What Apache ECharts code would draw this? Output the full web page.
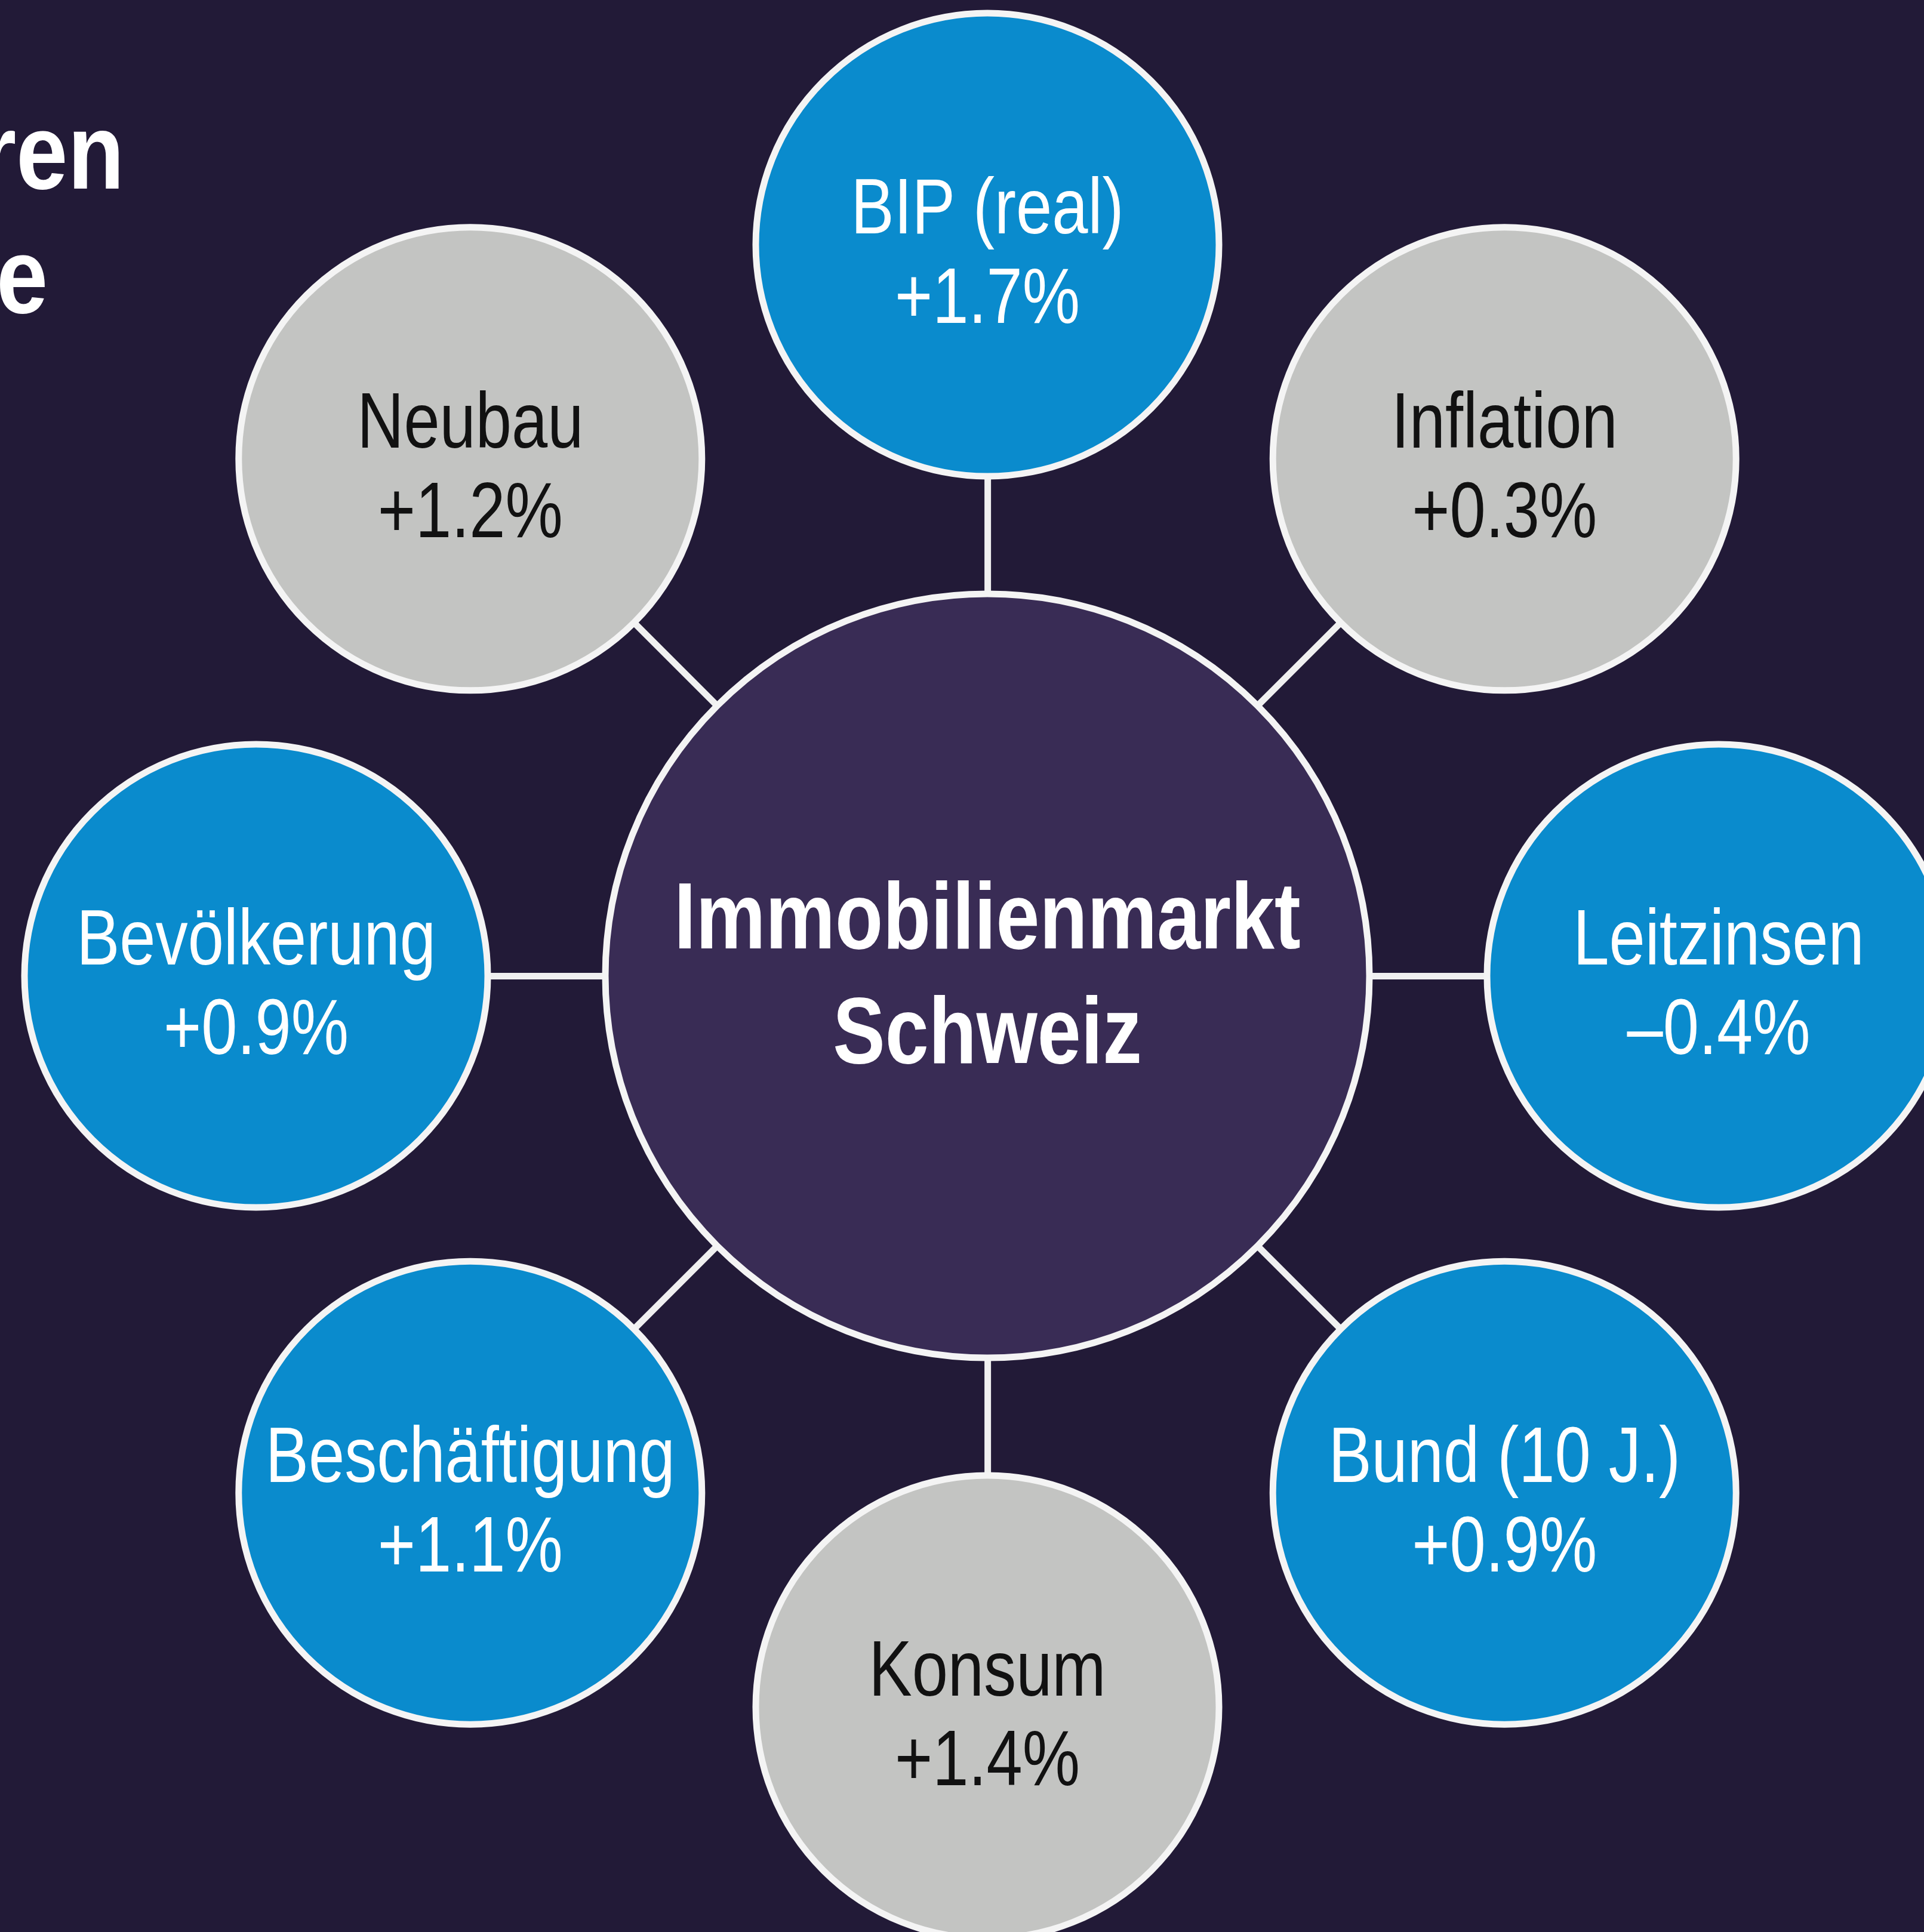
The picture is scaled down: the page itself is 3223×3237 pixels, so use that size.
<!DOCTYPE html>
<html>
<head>
<meta charset="utf-8">
<title>Immobilienmarkt Schweiz</title>
<script src="https://cdn.jsdelivr.net/npm/echarts@6/dist/echarts.min.js"></script>
<style>
  html, body { margin: 0; padding: 0; background: #221a37; }
  #chart { width: 3223px; height: 3237px; }
</style>
</head>
<body>
<div id="chart"></div>
<script>
// Faktoren im Uhrzeigersinn, oben beginnend
const faktoren = ['BIP (real)', 'Inflation', 'Leitzinsen', 'Bund (10 J.)', 'Konsum', 'Beschäftigung', 'Bevölkerung', 'Neubau']
const veraenderung = [1.7, 0.3, -0.4, 0.9, 1.4, 1.1, 0.9, 1.2]
// 0 = blau hinterlegt, 1 = grau hinterlegt
const kategorie = [0, 1, 0, 0, 1, 0, 0, 1]
const zentrum = 'Immobilienmarkt\nSchweiz'
// sichtbare Reste des angeschnittenen Titels
const titelZeilen = ['ren', 'e']

const FONT = "'Liberation Sans', Arial, sans-serif"
const BLUE = '#0a8bcd'
const GREY = '#c3c4c2'
const R = 1000

function fmt(v) {
  return (v < 0 ? '\u2013' : '+') + Math.abs(v).toFixed(1) + '%'
}

const nodes = [{
  name: 'zentrum',
  x: 0,
  y: 0,
  symbolSize: 1280,
  category: 2
}]
const links = []

faktoren.forEach((name, i) => {
  const a = i * Math.PI / 4
  nodes.push({
    name: name,
    value: veraenderung[i],
    x: R * Math.sin(a),
    y: -R * Math.cos(a),
    symbolSize: 776,
    category: kategorie[i]
  })
  links.push({ source: 'zentrum', target: name })
})

const chart = echarts.init(document.getElementById('chart'))

chart.setOption({
  backgroundColor: '#221a37',
  animation: false,
  series: [{
    type: 'graph',
    layout: 'none',
    left: 429,
    top: 410,
    width: 2450,
    height: 2450,
    roam: false,
    silent: true,
    emphasis: { disabled: true },
    categories: [
      { name: 'blau', itemStyle: { color: BLUE } },
      { name: 'grau', itemStyle: { color: GREY } },
      { name: 'zentrum', itemStyle: { color: '#392c55' } }
    ],
    itemStyle: {
      borderColor: '#f4f4f4',
      borderWidth: 11
    },
    label: { show: false },
    lineStyle: {
      color: '#f0f0f0',
      width: 11,
      opacity: 1,
      curveness: 0
    },
    data: nodes,
    links: links
  }]
})

// Beschriftungen schmal gesetzt (condensed), an den Knoten verankert
const labels = nodes.map((n, i) => {
  const p = chart.convertToPixel({ seriesIndex: 0 }, [n.x, n.y])
  const isCenter = i === 0
  return {
    type: 'text',
    x: p[0],
    y: p[1] + (isCenter ? 6 : 20),
    scaleX: isCenter ? 0.83 : 0.82,
    silent: true,
    z: 10,
    style: {
      text: isCenter ? zentrum : n.name + '\n' + fmt(n.value),
      fill: isCenter || kategorie[i - 1] === 0 ? '#ffffff' : '#111111',
      fontFamily: FONT,
      fontSize: isCenter ? 158 : 132,
      fontWeight: isCenter ? 'bold' : 'normal',
      lineHeight: isCenter ? 192 : 150,
      align: 'center',
      verticalAlign: 'middle',
      textAlign: 'center',
      textVerticalAlign: 'middle'
    }
  }
})

const titel = titelZeilen.map((t, i) => ({
  type: 'text',
  x: [208, 80][i],
  y: [356, 564][i],
  scaleX: 0.86,
  silent: true,
  style: {
    text: t,
    fill: '#ffffff',
    fontFamily: FONT,
    fontSize: 180,
    fontWeight: 'bold',
    align: 'right',
    verticalAlign: 'bottom',
    textAlign: 'right',
    textVerticalAlign: 'bottom'
  }
}))

chart.setOption({ graphic: titel.concat(labels) })
</script>
</body>
</html>
